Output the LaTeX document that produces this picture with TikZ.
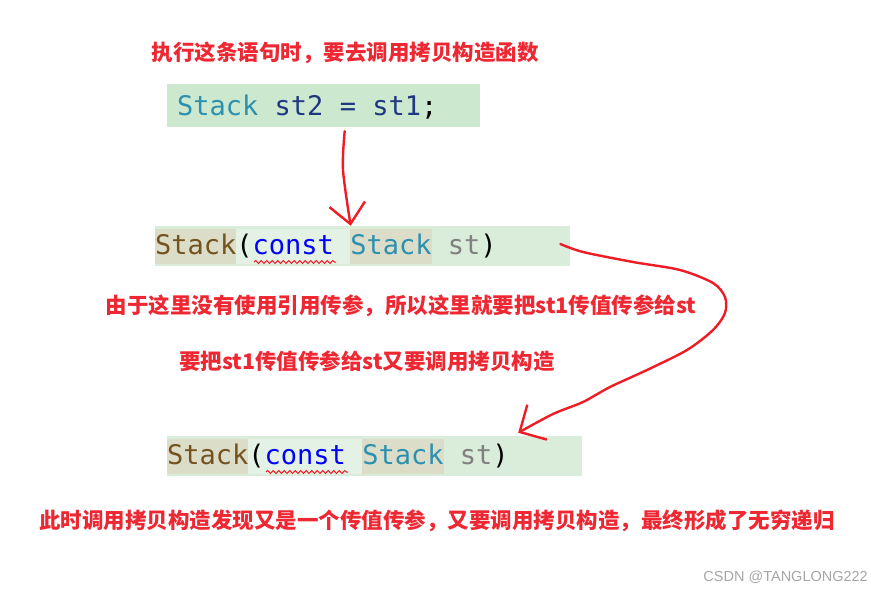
\documentclass[tikz,border=0pt]{standalone}
\usepackage{fontspec}
\setmainfont{Noto Sans CJK SC}
\newfontfamily\codefont{DejaVu Sans Mono}
\newfontfamily\markfont{Liberation Sans}
\usetikzlibrary{positioning, arrows.meta, calc, decorations.pathmorphing}

\definecolor{notered}{HTML}{EE2832}
\definecolor{penred}{HTML}{EE1C25}
\definecolor{stmtbg}{HTML}{CCE8CF}
\definecolor{codebg}{HTML}{D9EDDA}
\definecolor{stackbg}{HTML}{DCDDC9}
\definecolor{constbg}{HTML}{E4F1E5}
\definecolor{typeblue}{HTML}{2B91AF}
\definecolor{varnavy}{HTML}{1F377F}
\definecolor{funcbrown}{HTML}{74531F}
\definecolor{kwblue}{HTML}{0000FF}
\definecolor{parmgray}{HTML}{808080}
\newcommand{\codesp}{\hspace*{0.602em}}
\newcommand{\hl}[2]{{\fboxsep=0pt\colorbox{#1}{\rule[-9pt]{0pt}{35pt}#2}}}
\newcommand{\ctorline}{\hl{stackbg}{\textcolor{funcbrown}{Stack}}\hl{constbg}{(\textcolor{kwblue}{const}\codesp}\hl{stackbg}{\textcolor{typeblue}{Stack}}\codesp\textcolor{parmgray}{st})}

\begin{document}
\begin{tikzpicture}[x=1pt, y=-1pt,
    note/.style={text=notered, font=\bfseries\fontsize{21.5}{25}\selectfont, inner sep=0pt},
    codebox/.style={anchor=west, inner ysep=0pt, minimum height=40pt, align=left, font=\codefont\fontsize{27}{27}\selectfont},
    pen/.style={draw=penred, line width=2.4pt, line cap=round, line join=round},
    squiggle/.style={draw=penred, line width=1pt, decorate, decoration={snake, amplitude=1.5pt, segment length=5.5pt}},
  ]
  \useasboundingbox (0,0) rectangle (871,592);

  % statement that triggers the copy
  \node[note] (title) at (345,53) {执行这条语句时，要去调用拷贝构造函数};
  \node[codebox, fill=stmtbg, minimum height=43pt, inner xsep=10pt, text width=293pt, text height=31pt, text depth=12pt] (code1) at (167,105.5)
    {\textcolor{typeblue}{Stack}\codesp\textcolor{varnavy}{st2}\codesp\textcolor{varnavy}{=}\codesp\textcolor{varnavy}{st1};};

  % copy constructor, first call
  \node[codebox, fill=codebg, inner xsep=0pt, text width=415pt] (code2) at (155,246) {\ctorline};
  \draw[squiggle] ($(code2.west)+(99,16)$) -- ($(code2.west)+(181,16)$);

  \node[note] (note1) at (401,306) {由于这里没有使用引用传参，所以这里就要把st1传值传参给st};
  \node[note] (note2) at (367,361) {要把st1传值传参给st又要调用拷贝构造};

  % copy constructor, called again
  \node[codebox, fill=codebg, inner xsep=0pt, text width=415pt] (code3) at (167,456) {\ctorline};
  \draw[squiggle] ($(code3.west)+(99,16)$) -- ($(code3.west)+(181,16)$);

  \node[note] (note3) at (437,521) {此时调用拷贝构造发现又是一个传值传参，又要调用拷贝构造，最终形成了无穷递归};
  \node[anchor=east, text=black!35, font=\markfont\fontsize{14.5}{16}\selectfont, inner sep=0pt] (mark) at (868,577) {CSDN @TANGLONG222};

  % hand drawn arrows
  \coordinate (a1) at ([xshift=21pt, yshift=-4pt]code1.south);
  \coordinate (a2) at ([xshift=-12pt]code2.north);
  \draw[pen, -{Straight Barb[length=20pt, width=36pt]}] plot[smooth] coordinates {(a1) (343,170) (a2)};

  \coordinate (b1) at ([xshift=-10pt, yshift=2pt]code2.east);
  \coordinate (b2) at ([xshift=143.5pt, yshift=3pt]code3.north);
  \draw[pen, -{Straight Barb[length=20pt, width=40pt]}] plot[smooth, tension=0.5] coordinates
    {(b1) (583,252) (633,262) (680,270) (713,283) (725,297) (725,313) (713,330) (687,350) (647,370) (610,387) (583,402) (553,414) (b2)};
\end{tikzpicture}
\end{document}
